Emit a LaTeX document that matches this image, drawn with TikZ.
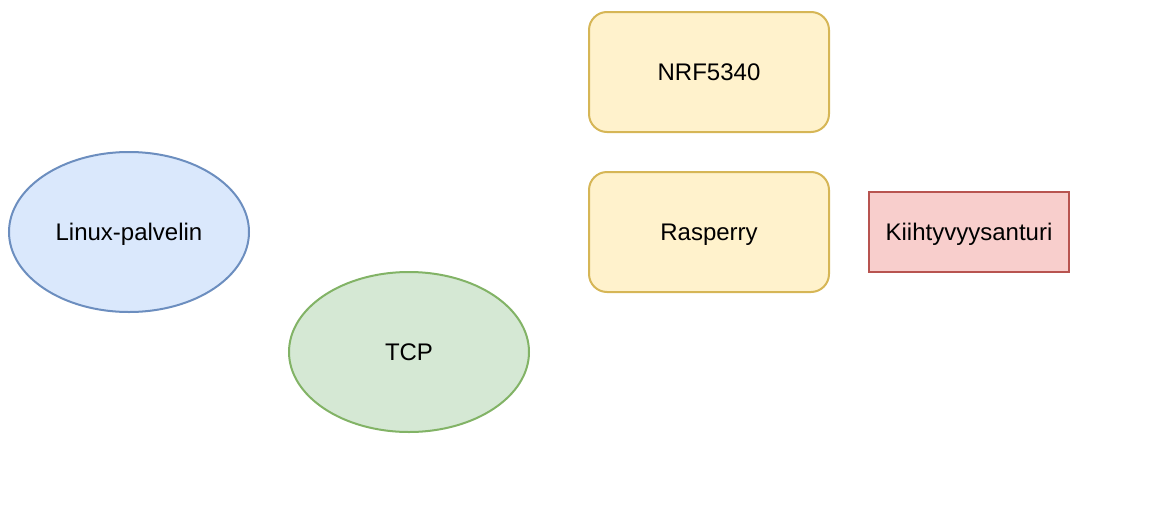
\documentclass[tikz,border=0pt]{standalone}
\usepackage{fontspec}
\setmainfont{Liberation Sans}
\usetikzlibrary{shapes.geometric}
\definecolor{yfill}{HTML}{FFF2CC}\definecolor{ydraw}{HTML}{D6B656}
\definecolor{rfill}{HTML}{F8CECC}\definecolor{rdraw}{HTML}{B85450}
\definecolor{bfill}{HTML}{DAE8FC}\definecolor{bdraw}{HTML}{6C8EBF}
\definecolor{gfill}{HTML}{D5E8D4}\definecolor{gdraw}{HTML}{82B366}
\begin{document}
\begin{tikzpicture}[x=1pt,y=-1pt,
  base/.style={line width=2pt,inner sep=0pt,text depth=0pt,font=\fontsize{24}{28}\selectfont},
  ybox/.style={base,draw=ydraw,fill=yfill,rounded corners=18pt,minimum width=240pt,minimum height=120pt},
  rbox/.style={base,draw=rdraw,fill=rfill,minimum width=200pt,minimum height=80pt},
  bell/.style={base,ellipse,draw=bdraw,fill=bfill,minimum width=240pt,minimum height=160pt},
  gell/.style={base,ellipse,draw=gdraw,fill=gfill,minimum width=240pt,minimum height=160pt}]
\useasboundingbox (0,0) rectangle (1164,514);
\node[ybox] (nrf) at (709,72) {NRF5340};
\node[ybox] (ras) at (709,232) {Rasperry};
\node[rbox] (acc) at (969,232) {Kiihtyvyysanturi};
\node[bell] (lin) at (129,232) {Linux-palvelin};
\node[gell] (tcp) at (409,352) {TCP};
\end{tikzpicture}
\end{document}
